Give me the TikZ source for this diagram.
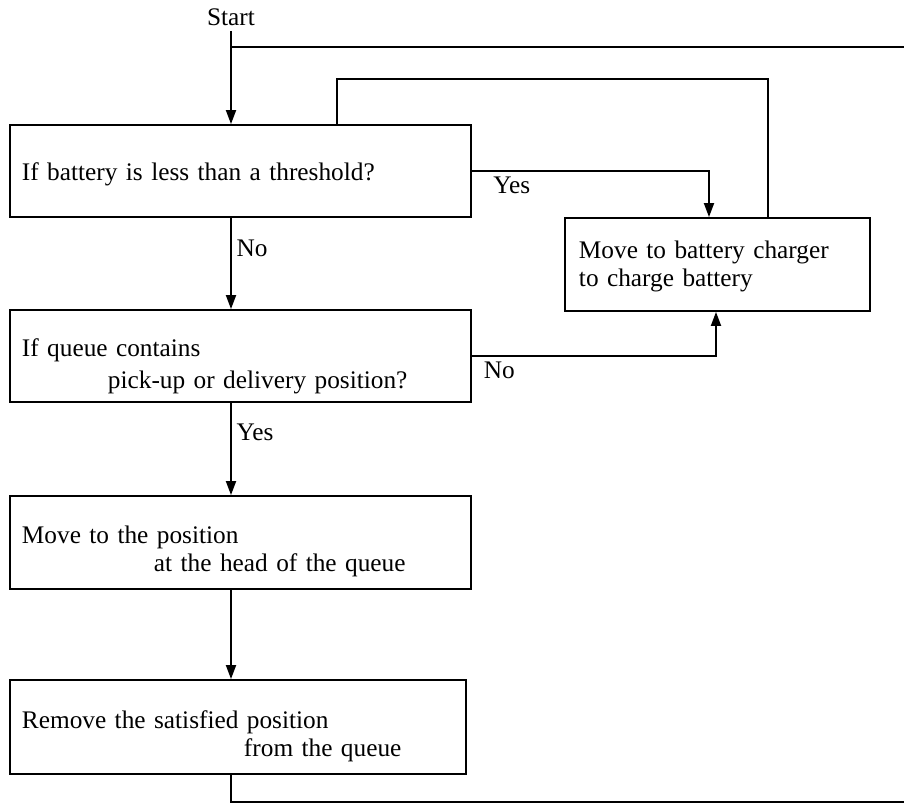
\documentclass[tikz,border=0pt]{standalone}
\usepackage{fontspec}
\setmainfont{Liberation Serif}
\usetikzlibrary{arrows.meta,calc,positioning}

\begin{document}
\begin{tikzpicture}[
        x=0.025cm,y=-0.025cm,
        font=\fontsize{18}{20}\selectfont,
        stepbox/.style={draw,line width=1.3pt,inner xsep=0.3cm,inner ysep=0pt,minimum height=2.3cm,align=left},
        flow/.style={-{Triangle[length=0.35cm,width=0.25cm]},line width=1.3pt},
        back/.style={line width=1.3pt}
    ]
        \useasboundingbox (0,0) rectangle (904,804);
        \fill[white] (0,0) rectangle (904,804);

        \node (start) at (231,17.5) {Start};
        \node[stepbox,text width=10.925cm,text height=18pt] (battery) at (240.5,171) {If battery is less than a threshold?};
        \node[stepbox,text width=10.925cm,text height=27pt] (queue) at (240.5,356) {If queue contains\\[3pt]\hspace*{2.15cm}pick-up or delivery position?};
        \node[stepbox,text width=10.925cm,text height=25pt,minimum height=2.325cm] (head) at (240.5,542.5) {Move to the position\\\hspace*{3.3cm}at the head of the queue};
        \node[stepbox,text width=10.8cm,text height=26pt,minimum height=2.35cm] (remove) at (238,727) {Remove the satisfied position\\\hspace*{5.55cm}from the queue};
        \node[stepbox,text width=6.925cm,text height=14.7pt,inner xsep=0.35cm,minimum height=2.325cm] (charger) at (717.5,264.5) {Move to battery charger\\to charge battery};

        \coordinate (topR) at (904,47);
        \coordinate (botR) at (904,802);
        \coordinate (backR) at (768,79);
        \coordinate (backL) at (337,79);

        \draw[flow] (start.south) -- (start.south |- battery.north);
        \draw[back] (topR) -- (topR -| start);

        \draw[flow] (battery.south -| start) -- node[right,pos=0.33] {No} (queue.north -| start);
        \draw[flow] (queue.south -| start) -- node[right,pos=0.32] {Yes} (head.north -| start);
        \draw[flow] (head.south -| start) -- (remove.north -| start);
        \draw[back] (remove.south -| start) -- (botR -| start) -- (botR);

        \draw[flow] (battery.east) -| node[pos=0.084,below] {Yes} ($(charger.north)+(-8.5,0)$);
        \draw[flow] (queue.east) -| node[pos=0.056,below] {No} ($(charger.south)+(-1.5,0)$);
        \draw[back] (charger.north -| backR) -- (backR) -- (backL) -- (battery.north -| backL);
    \end{tikzpicture}
\end{document}
